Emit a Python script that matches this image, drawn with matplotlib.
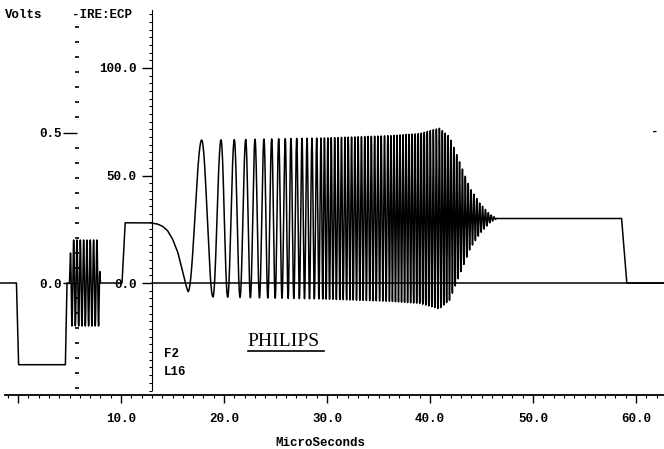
import numpy as np
import matplotlib.pyplot as plt
from matplotlib.lines import Line2D
from matplotlib.ticker import FixedLocator, NullFormatter

# trace outside the sweep: (microseconds, IRE) levels
level_t = [-1.8, -0.15, 0.05, 4.6, 4.75, 10.1, 10.4, 12.8, 13.5, 14.0, 14.5, 15.0, 15.5,
           15.8, 16.1, 16.3, 16.5, 46.5, 58.6, 59.1, 62.8]
level_v = [0, 0, -38, -38, 0, 0, 28, 28, 27.5, 26.5, 24.5, 20.5, 14.5,
           9, 3, -1, -4, 30, 30, 0, 0]

# colour burst
burst_env_t = [4.95, 5.15, 7.85, 8.0]
burst_env = [0, 20, 20, 0]
burst_phase_t = [5.0, 8.0]
burst_phase = [0, 9.3]

# frequency sweep: centre level, envelope and peak/trough timing (cycles)
sweep_start, sweep_end = 16.5, 46.5
sweep_center = 30
sweep_env_t = [16.5, 17.8, 19.0, 30.0, 36.0, 39.0, 40.9, 41.9, 42.9, 43.9, 44.85, 45.8, 46.5]
sweep_env = [34, 36.5, 36.5, 37.5, 38.5, 39.5, 42, 38, 26, 14, 7, 2, 0]
sweep_phase_t = [16.5, 17.83, 18.93, 19.71, 21.0, 22.11, 23.01, 23.88, 24.63, 25.31,
                 25.95, 26.50, 27.06, 27.57, 28.06, 28.54, 29.0, 29.42, 32.0, 36.0, 41.0, 46.5]
sweep_phase = [0.5, 1.0, 1.5, 2, 3, 4, 5, 6, 7, 8,
               9, 10, 11, 12, 13, 14, 15, 16, 23.8, 36.3, 53.3, 73]

x_ticks = [0, 10, 20, 30, 40, 50, 60]
x_labels = ['', '10.0', '20.0', '30.0', '40.0', '50.0', '60.0']
ire_ticks = [0, 50, 100]
ire_labels = ['0.0', '50.0', '100.0']
volt_ticks = [0.0, 0.5]
volt_labels = ['0.0', '0.5']

# build the trace
t = np.arange(-1.8, 62.8, 0.004)
y = np.interp(t, level_t, level_v)
y += np.interp(t, burst_env_t, burst_env, left=0, right=0) * \
    np.sin(2 * np.pi * np.interp(t, burst_phase_t, burst_phase))
sw = (t >= sweep_start) & (t <= sweep_end)
y[sw] = sweep_center + np.interp(t[sw], sweep_env_t, sweep_env) * \
    np.cos(2 * np.pi * np.interp(t[sw], sweep_phase_t, sweep_phase))

mono = dict(family='Liberation Mono', weight='bold', size=9)
W, H = 664, 449

fig = plt.figure(figsize=(6.64, 4.49), dpi=100)
ax = fig.add_axes([0, 0, 1, 1])
ax.set_xlim(-18 / 10.3, (W - 18) / 10.3)
ax.set_ylim(-(H - 283) / 2.15, 283 / 2.15)
ax.patch.set_visible(False)

ax.plot(t, y, color='black', lw=1.1)
ax.axhline(0, xmin=152 / W, xmax=1, color='black', lw=1.1)

# axes
for s in ['top', 'right']:
    ax.spines[s].set_visible(False)
ax.spines['bottom'].set_position(('data', -52.1))
ax.spines['bottom'].set_bounds(-1.3, 62.72)
ax.spines['bottom'].set_linewidth(1.3)
ax.spines['left'].set_position(('data', 13.0))
ax.spines['left'].set_bounds(-49.8, 127)
ax.spines['left'].set_linewidth(0.8)
ax.spines['left'].set_linestyle((0, (2, 1)))

ax.xaxis.set_major_locator(FixedLocator(x_ticks))
ax.set_xticklabels(x_labels, fontdict=mono)
ax.xaxis.set_minor_locator(FixedLocator(np.arange(-1, 63)))
ax.xaxis.set_minor_formatter(NullFormatter())
ax.tick_params(axis='x', which='major', length=6, width=1, pad=7)
ax.tick_params(axis='x', which='minor', length=2.5, width=0.8)

ax.yaxis.set_major_locator(FixedLocator(ire_ticks))
ax.set_yticklabels(ire_labels, fontdict=mono)
ax.yaxis.set_minor_locator(FixedLocator(np.arange(-14, 36) * 50 / 14))
ax.yaxis.set_minor_formatter(NullFormatter())
ax.tick_params(axis='y', which='major', length=7, width=1, pad=4)
ax.tick_params(axis='y', which='minor', length=2.5, width=0.8)

ax.set_xlabel('MicroSeconds', fontdict=mono)
ax.xaxis.set_label_coords(320 / W, 1 - 437 / H)

volts = ax.secondary_yaxis(77 / W, functions=(lambda v: v / 140, lambda v: v * 140))
volts.spines['left'].set_visible(False)
volts.yaxis.set_major_locator(FixedLocator(volt_ticks))
volts.set_yticklabels(volt_labels, fontdict=mono)
volts.yaxis.set_minor_locator(FixedLocator(np.arange(-7, 18) * 0.05))
volts.yaxis.set_minor_formatter(NullFormatter())
volts.tick_params(axis='y', which='major', length=10, width=1, pad=1)
volts.tick_params(axis='y', which='minor', direction='inout', length=3, width=1.2)

# labels
fig.text(5 / W, 1 - 15 / H, 'Volts', va='center', ha='left', **mono)
fig.text(72 / W, 1 - 15 / H, '-IRE:ECP', va='center', ha='left', **mono)
fig.text(164 / W, 1 - 354 / H, 'F2', va='center', ha='left', **mono)
fig.text(164 / W, 1 - 372 / H, 'L16', va='center', ha='left', **mono)
fig.text(651 / W, 1 - 132 / H, '-', va='center', ha='left', **mono)
fig.text(247 / W, 1 - 341 / H, 'PHILIPS', va='center', ha='left',
         family='Liberation Serif', size=14)
fig.add_artist(Line2D([248 / W, 324 / W], [1 - 351 / H, 1 - 351 / H], color='black', lw=1.2))

plt.savefig('out.png', dpi=100)
